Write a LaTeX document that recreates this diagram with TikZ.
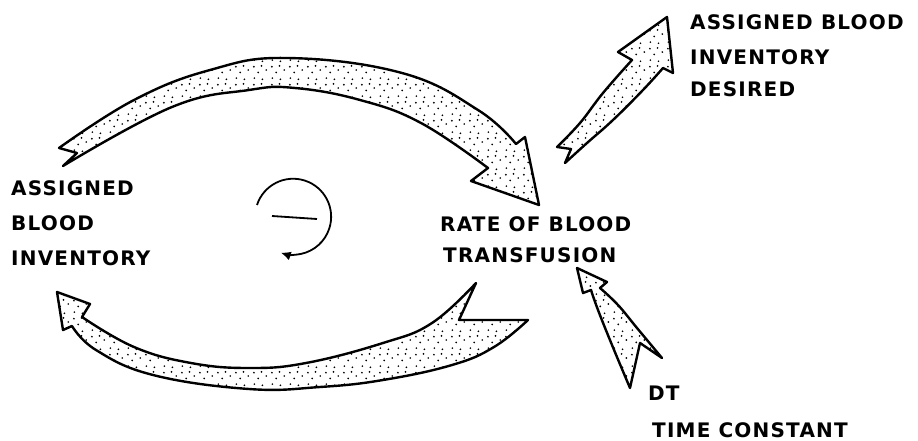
\documentclass[tikz,border=0pt]{standalone}
\usepackage{fontspec}
\newfontfamily\lbl[LetterSpace=6]{DejaVu Sans}
\usetikzlibrary{patterns,arrows.meta}
\pgfdeclarepatternformonly{stip}{\pgfqpoint{0pt}{0pt}}{\pgfqpoint{18pt}{18pt}}{\pgfqpoint{18pt}{18pt}}{%
  \pgfpathcircle{\pgfqpoint{2.5pt}{3pt}}{1pt}%
  \pgfpathcircle{\pgfqpoint{11pt}{1.8pt}}{1pt}%
  \pgfpathcircle{\pgfqpoint{6.5pt}{9pt}}{1pt}%
  \pgfpathcircle{\pgfqpoint{15pt}{11.5pt}}{1pt}%
  \pgfpathcircle{\pgfqpoint{2pt}{15pt}}{1pt}%
  \pgfpathcircle{\pgfqpoint{10pt}{15.8pt}}{1pt}%
  \pgfusepath{fill}}
\tikzset{
  fat/.style={draw=black, line width=2.4pt, line join=round, pattern=stip},
  lab/.style={font=\lbl\bfseries\fontsize{20}{24}\selectfont, anchor=base west, inner sep=0pt},
  loopline/.style={line width=1.8pt},
}
\begin{document}
\begin{tikzpicture}[x=1pt,y=-1pt]
\useasboundingbox (0,0) rectangle (918,441);
% top arrow: ASSIGNED BLOOD INVENTORY -> RATE
\path[fat] (59,148) -- plot[smooth,tension=0.7] coordinates {(59,148) (134,100) (210,70) (287,58) (402,73) (478,110) (516,144)}
  -- (525,137) -- (539,205) -- (471,181) -- (488,168)
  -- plot[smooth,tension=0.7] coordinates {(488,168) (421,123) (360,100) (295,88) (249,90) (172,107) (63,166)}
  -- (77,153) -- cycle;
% bottom arrow: RATE -> ASSIGNED BLOOD INVENTORY
\path[fat] (57,292) -- (90,304) -- (82,317)
  -- plot[smooth,tension=0.7] coordinates {(82,317) (134,347) (191,363) (249,368) (306,363) (383,343) (432,323) (476,283)}
  -- (459,320) -- (528,320)
  -- plot[smooth,tension=0.7] coordinates {(528,320) (494,347) (452,365) (383,380) (320,387) (249,389) (153,375) (96,350) (72,326)}
  -- (63,330) -- cycle;
% up-right arrow to DESIRED
\path[fat] (667,17) -- (673,73) -- (663,68)
  -- plot[smooth,tension=0.7] coordinates {(663,68) (643,90) (613,120) (587,143) (565,163)}
  -- (571,149) -- (557,147)
  -- plot[smooth,tension=0.7] coordinates {(557,147) (580,123) (603,93) (632,60)}
  -- (618,52) -- cycle;
% DT arrow
\path[fat] (577,268) -- (607,282) -- (600,288)
  -- plot[smooth,tension=0.7] coordinates {(600,288) (618,305) (637,328) (662,358)}
  -- (640,343) -- (630,388)
  -- plot[smooth,tension=0.7] coordinates {(630,388) (612,345) (598,310) (591,290)}
  -- (583,293) -- cycle;
% loop sign
\draw[loopline, -{Latex[length=10pt,width=9pt]}] (257,205) arc[start angle=-162, end angle=109, radius=38];
\draw[loopline] (272,216) -- (317,219);
% labels
\node[lab] (l1) at (11,195) {ASSIGNED};
\node[lab] (l2) at (11,230) {BLOOD};
\node[lab] (l3) at (11,265) {INVENTORY};
\node[lab] (r1) at (440,231) {RATE OF BLOOD};
\node[lab] (r2) at (443,262) {TRANSFUSION};
\node[lab] (d1) at (690,30) {ASSIGNED BLOOD};
\node[lab] (d2) at (690,65) {INVENTORY};
\node[lab] (d3) at (690,97) {DESIRED};
\node[lab] (t1) at (648,400) {DT};
\node[lab] (t2) at (652,437) {TIME CONSTANT};
\end{tikzpicture}
\end{document}
